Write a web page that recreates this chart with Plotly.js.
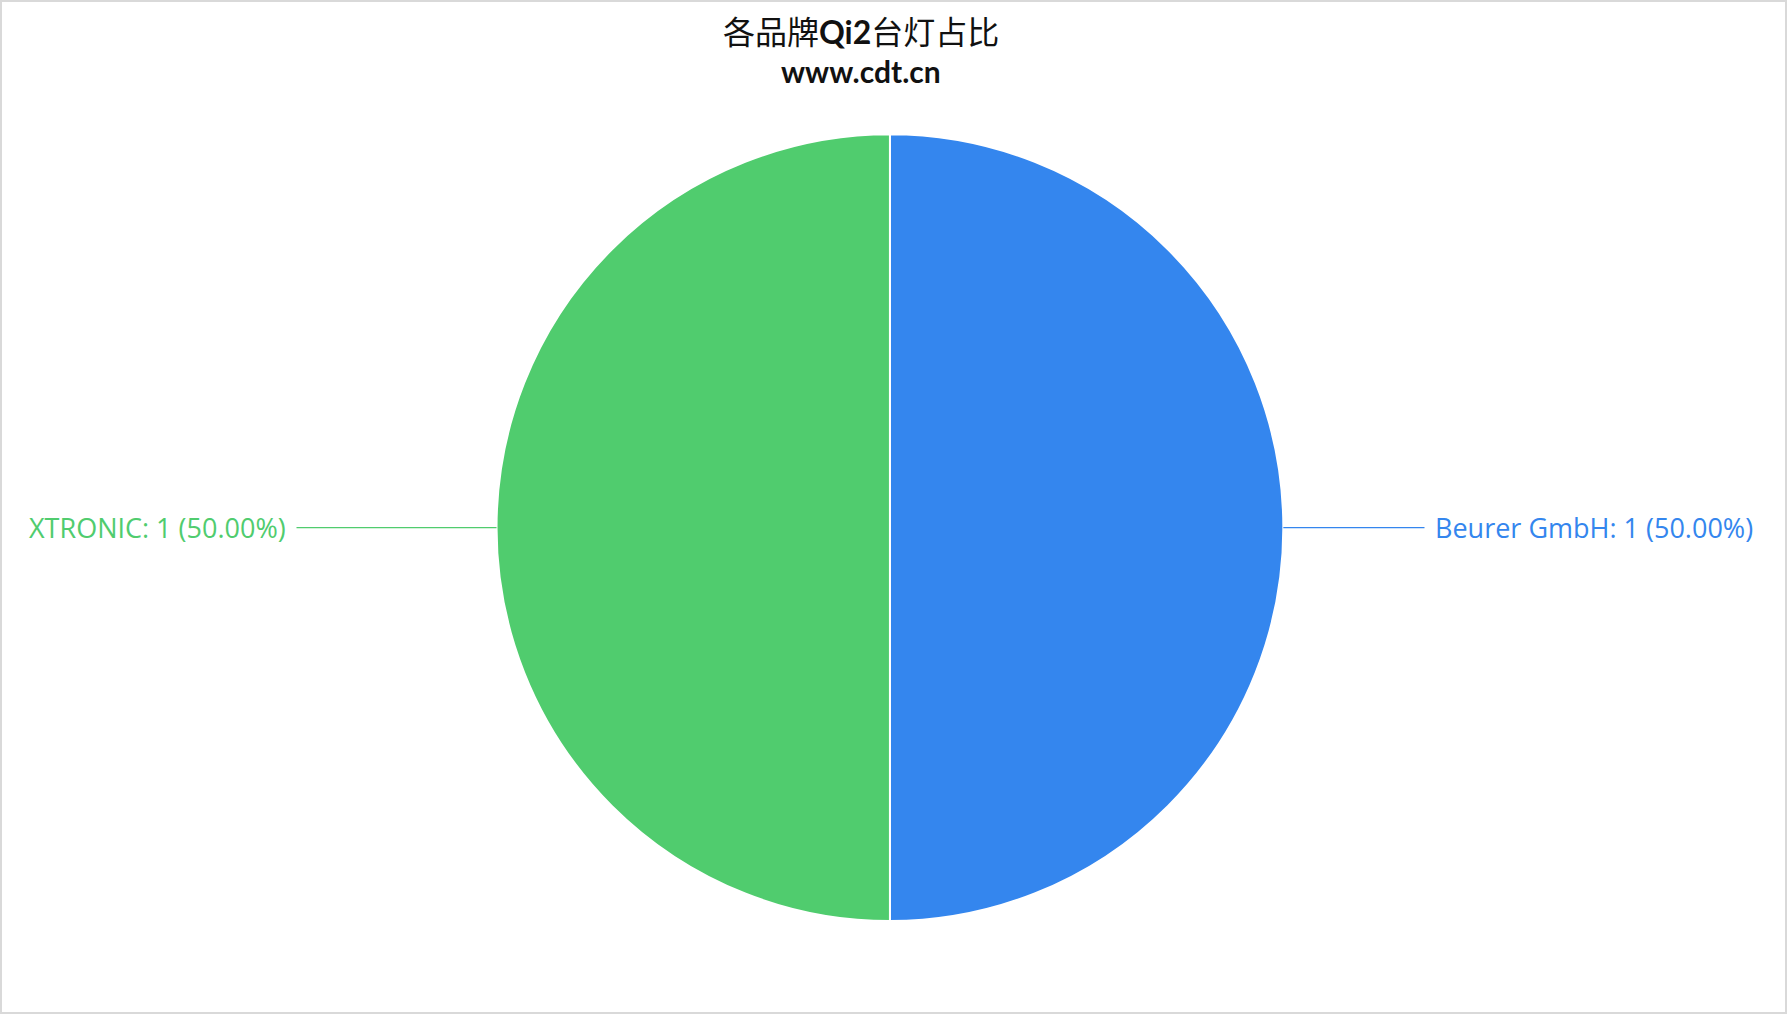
<!DOCTYPE html>
<html>
<head>
<meta charset="utf-8">
<script src="https://cdn.plot.ly/plotly-3.0.1.min.js"></script>
<style>
  html, body { margin: 0; padding: 0; background: #fff; }
  #chart { width: 1783px; height: 1010px; border: 2px solid #d9d9d9; }
</style>
</head>
<body>
<div id="chart"></div>
<script>
// share of Qi2 desk lamps per brand
const brands = ["Beurer GmbH", "XTRONIC"];
const counts = [1, 1];
const sliceColors = ["#3486ee", "#50cc6e"];

const W = 1783, H = 1010;
const domainX = [0.002, 0.994];
const domainY = [0.090, 0.869];
const labelInsetLeft = 25;
const labelInsetRight = 30;

const total = counts.reduce((a, b) => a + b, 0);

const tracePie = {
    type: "pie",
    labels: brands,
    values: counts,
    sort: false,
    direction: "clockwise",
    rotation: 0,
    textinfo: "none",
    hoverinfo: "label+value+percent",
    showlegend: false,
    domain: { x: domainX, y: domainY },
    marker: {
        colors: sliceColors,
        line: { color: "#ffffff", width: 2 }
    }
};

// pie geometry in pixels, same as plotly lays it out
const cx = W * (domainX[0] + domainX[1]) / 2;
const cy = H * (1 - (domainY[0] + domainY[1]) / 2);
const r = Math.min(W * (domainX[1] - domainX[0]), H * (domainY[1] - domainY[0])) / 2;

let cum = 0;
const labelNotes = brands.map((b, i) => {
    const frac = counts[i] / total;
    const theta = 2 * Math.PI * (cum + frac / 2);
    cum += frac;
    const hx = cx + r * Math.sin(theta);
    const hy = cy - r * Math.cos(theta);
    const right = Math.sin(theta) >= 0;
    const tailX = right ? W - labelInsetRight : labelInsetLeft;
    return {
        xref: "paper", yref: "paper",
        x: hx / W, y: 1 - hy / H,
        ax: tailX - hx, ay: 0,
        xanchor: right ? "right" : "left",
        yanchor: "middle",
        text: `${b}: ${counts[i]} (${(frac * 100).toFixed(2)}%)`,
        font: { family: "Open Sans", size: 27, color: sliceColors[i] },
        showarrow: true,
        arrowhead: 0,
        arrowwidth: 1.3,
        arrowcolor: sliceColors[i],
        standoff: 0,
        startstandoff: 9
    };
});

const titleNotes = [
    {
        xref: "paper", yref: "paper",
        x: 0.4815, y: 1 - 28 / H,
        xanchor: "center", yanchor: "middle",
        text: '各品牌<span style="font-family:Lato;font-weight:bold">Qi2</span>台灯占比',
        font: { family: "Noto Sans CJK SC", size: 32, color: "#111111" },
        showarrow: false
    },
    {
        xref: "paper", yref: "paper",
        x: 0.4815, y: 1 - 69 / H,
        xanchor: "center", yanchor: "middle",
        text: "<b>www.cdt.cn</b>",
        font: { family: "Lato", size: 30, color: "#111111" },
        showarrow: false
    }
];

const layoutPie = {
    width: W,
    height: H,
    margin: { l: 0, r: 0, t: 0, b: 0 },
    paper_bgcolor: "#ffffff",
    plot_bgcolor: "#ffffff",
    annotations: titleNotes.concat(labelNotes)
};

Plotly.newPlot("chart", [tracePie], layoutPie, { displayModeBar: false, staticPlot: true });
</script>
</body>
</html>
